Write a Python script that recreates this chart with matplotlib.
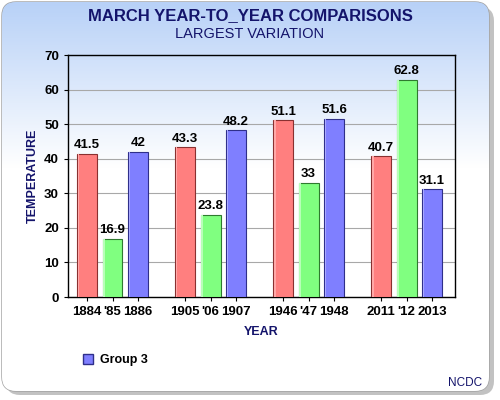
import numpy as np
import matplotlib
matplotlib.use('Agg')
from matplotlib import pyplot as plt
from matplotlib.patches import FancyBboxPatch, Patch

plt.rcParams['font.family'] = ['Liberation Sans', 'DejaVu Sans']

# data
labels = ['1884', "'85", '1886', '1905', "'06", '1907',
          '1946', "'47", '1948', '2011', "'12", '2013']
values = [41.5, 16.9, 42, 43.3, 23.8, 48.2, 51.1, 33, 51.6, 40.7, 62.8, 31.1]
colors = ['#ff7f7f', '#80ff80', '#7f7fff']
edges = ['#8a3030', '#2f7a2f', '#2f2f8a']
lights = ['#ffa8a8', '#b8ffb8', '#a8a8ff']
navy = '#14146b'

gap = 3.85
xpos = np.array([(i // 3) * gap + (i % 3) for i in range(len(values))])

fig = plt.figure(figsize=(5, 4), dpi=100)

# panel background with gradient + shadow
bg = fig.add_axes([0, 0, 1, 1], zorder=-10)
bg.set_xlim(0, 500)
bg.set_ylim(400, 0)
bg.axis('off')
shadow = FancyBboxPatch((6, 7), 488, 388, boxstyle='round,pad=0,rounding_size=14',
                        fc='#9a9a9a', ec='none', alpha=0.6)
bg.add_patch(shadow)
panel = FancyBboxPatch((2, 2), 487, 389, boxstyle='round,pad=0,rounding_size=14',
                       fc='white', ec='#a0a0a0', lw=1)
bg.add_patch(panel)
grad = np.ones((400, 1, 3))
top = np.array([0.72, 0.82, 0.97])
for r in range(400):
    t = min(r / 170.0, 1.0)
    grad[r, 0] = top * (1 - t) + np.array([1, 1, 1]) * t
im = bg.imshow(grad, extent=[2, 489, 391, 2], aspect='auto', zorder=1)
im.set_clip_path(panel)

ax = fig.add_axes([68 / 500, 1 - 297 / 400, 387 / 500, 242 / 400])
ax.patch.set_alpha(0)
for i, v in enumerate(values):
    c = i % 3
    ax.bar(xpos[i], v, width=0.78, color=colors[c], edgecolor=edges[c],
           linewidth=0.8, zorder=3)
    ax.bar(xpos[i] - 0.33, v, width=0.06, color=lights[c], linewidth=0,
           zorder=4)
    ax.text(xpos[i], v + 0.7, '%g' % v, ha='center', va='bottom',
            fontsize=9.5, fontweight='bold', color='black', zorder=5)

ax.set_xlim(-0.75, xpos[-1] + 0.9)
ax.set_ylim(0, 70)
ax.set_yticks(np.arange(0, 71, 10))
ax.set_xticks(xpos)
ax.set_xticklabels(labels)
ax.tick_params(axis='both', labelsize=9.5, length=3, colors='black')
for lab in ax.get_xticklabels() + ax.get_yticklabels():
    lab.set_fontweight('bold')
ax.yaxis.grid(True, color='#a8a8a8', lw=0.8, zorder=0)
for s in ax.spines.values():
    s.set_color('black')
    s.set_linewidth(1)

ax.set_xlabel('YEAR', fontsize=9, fontweight='bold', color=navy, labelpad=6)
ax.set_ylabel('TEMPERATURE', fontsize=9, fontweight='bold', color=navy, labelpad=4)

fig.text(0.5, 1 - 16 / 400, 'MARCH YEAR-TO_YEAR COMPARISONS', ha='center',
         va='center', fontsize=12, fontweight='bold', color=navy)
fig.text(0.5, 1 - 34 / 400, 'LARGEST VARIATION', ha='center', va='center',
         fontsize=10.5, color=navy)

leg = fig.legend(handles=[Patch(fc=colors[2], ec='#2f2f8a', label='Group 3')],
                 loc='center left', bbox_to_anchor=(72 / 500, 1 - 360 / 400),
                 frameon=False, prop={'weight': 'bold', 'size': 9},
                 handlelength=0.8, handleheight=0.8, handletextpad=0.5)

fig.text(482 / 500, 1 - 383 / 400, 'NCDC', ha='right', va='center',
         fontsize=8.5, color=navy)

fig.savefig('out.png', dpi=100)
